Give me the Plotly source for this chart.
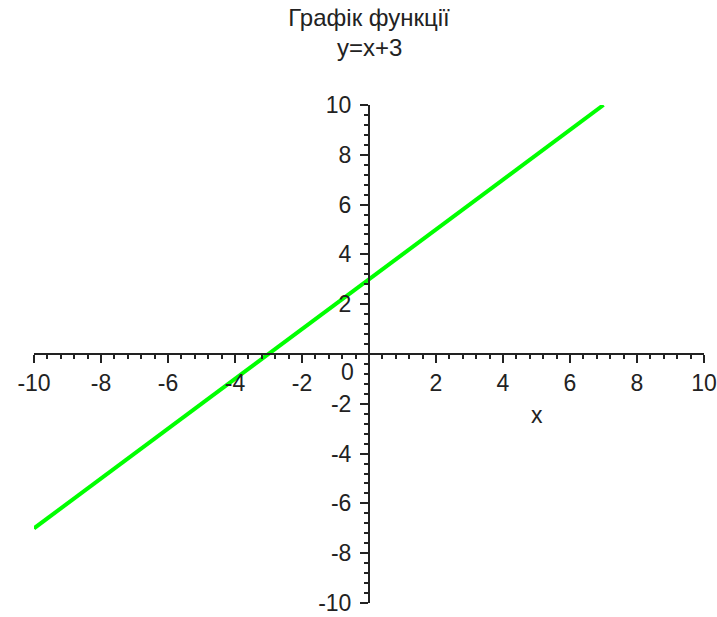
import plotly.graph_objects as go

# data
x_vals = [-10, 7]
y_vals = [-7, 10]
x_tick_vals = [-10, -8, -6, -4, -2, 2, 4, 6, 8, 10]
x_tick_text = ["-10", "-8", "-6", "-4", "-2", "2", "4", "6", "8", "10"]
y_tick_vals = [-10, -8, -6, -4, -2, 2, 4, 6, 8, 10]
y_tick_text = ["-10", "-8", "-6", "-4", "-2", "2", "4", "6", "8", "10"]
title_lines = ["Графік функції", "y=x+3"]
x_label = "x"

FONT = "Liberation Sans, Arial, sans-serif"
INK = "#222222"
PLOT_TOP, PLOT_BOTTOM = 105, 603

fig = go.Figure()
fig.add_trace(go.Scatter(x=x_vals, y=y_vals, mode="lines",
                         line=dict(color="#00FF00", width=4), showlegend=False,
                         hoverinfo="skip"))

axis_common = dict(
    showgrid=False, zeroline=False, showline=True, linecolor=INK, linewidth=2,
    ticks="outside", ticklen=8, tickwidth=2, tickcolor=INK,
    tickfont=dict(family=FONT, size=23, color=INK),
    minor=dict(dtick=0.4, ticks="outside", ticklen=4, tickwidth=2, tickcolor=INK),
    anchor="free", position=0.5, fixedrange=True, automargin=False,
    ticklabeloverflow="allow",
)

fig.update_layout(
    width=717, height=617,
    margin=dict(l=34, r=13, t=PLOT_TOP, b=617 - PLOT_BOTTOM),
    paper_bgcolor="white", plot_bgcolor="white",
    title=dict(text=title_lines[0], x=0.5, xref="paper", xanchor="center",
               y=1 - 18 / 617, yref="container", yanchor="middle",
               font=dict(family=FONT, size=24, color=INK)),
    xaxis=dict(range=[-10, 10], tickvals=x_tick_vals, ticktext=x_tick_text,
               side="bottom", **axis_common),
    yaxis=dict(range=[-10, 10], tickvals=y_tick_vals, ticktext=y_tick_text,
               side="left", ticklabelstandoff=4, **axis_common),
)

fig.add_annotation(x=0.5, y=(PLOT_BOTTOM - 47) / (PLOT_BOTTOM - PLOT_TOP),
                   xref="paper", yref="paper", text=title_lines[1],
                   showarrow=False, xanchor="center", yanchor="middle",
                   font=dict(family=FONT, size=24, color=INK))
fig.add_annotation(x=0, y=0, text="0", showarrow=False, xanchor="right", yanchor="top",
                   xshift=-13, yshift=-3,
                   font=dict(family=FONT, size=23, color=INK))
fig.add_annotation(x=5.0, y=-2.45, text=x_label, showarrow=False,
                   font=dict(family=FONT, size=23, color=INK))

fig.write_html("out.html", config={"displayModeBar": False},
               post_script="document.body.style.margin='0';")
